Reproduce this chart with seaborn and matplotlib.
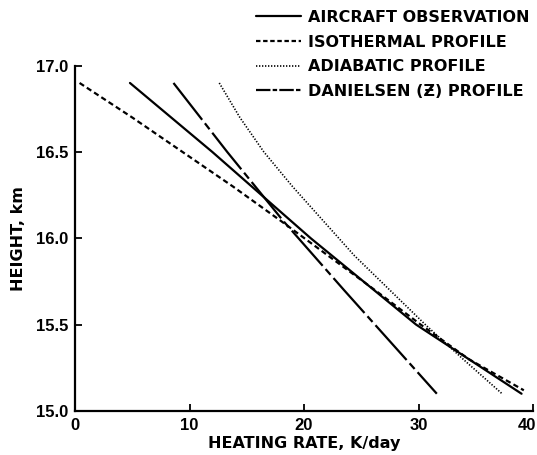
import numpy as np
import pandas as pd
import matplotlib
matplotlib.use("Agg")
import matplotlib.pyplot as plt
import matplotlib.transforms as mtransforms
import seaborn as sns

# ---- data ----
aircraft_height = [16.9, 16.5, 16.0, 15.5, 15.1]
aircraft_rate = [4.8, 12.0, 20.6, 29.8, 39.0]

isothermal_height = [16.9, 16.7, 16.5, 16.3, 16.1, 15.9, 15.7, 15.5, 15.3, 15.12]
isothermal_rate = [0.4, 5.0, 9.4, 13.8, 18.0, 22.1, 26.2, 30.2, 34.4, 39.2]

adiabatic_height = [16.9, 16.7, 16.5, 16.3, 16.1, 15.9, 15.7, 15.5, 15.3, 15.1]
adiabatic_rate = [12.6, 14.4, 16.5, 19.0, 21.7, 24.4, 27.5, 30.6, 33.9, 37.3]

danielsen_height = [16.9, 16.5, 16.1, 15.7, 15.3, 15.1]
danielsen_rate = [8.6, 13.3, 18.2, 23.5, 28.9, 31.6]

series_labels = ["AIRCRAFT OBSERVATION", "ISOTHERMAL PROFILE",
                 "ADIABATIC PROFILE", "DANIELSEN (Ƶ) PROFILE"]
x_ticks = [0, 10, 20, 30, 40]
y_ticks = [15.0, 15.5, 16.0, 16.5, 17.0]

frames = []
for lab, h, r in zip(series_labels,
                     [aircraft_height, isothermal_height, adiabatic_height, danielsen_height],
                     [aircraft_rate, isothermal_rate, adiabatic_rate, danielsen_rate]):
    frames.append(pd.DataFrame({"rate": r, "height": h, "profile": lab}))
df = pd.concat(frames, ignore_index=True)

sns.set_theme(style="ticks")
plt.rcParams["font.family"] = ["Liberation Sans", "DejaVu Sans"]
plt.rcParams["font.weight"] = "bold"
plt.rcParams["axes.labelweight"] = "bold"
for k in ["text.color", "axes.labelcolor", "xtick.color", "ytick.color", "axes.edgecolor"]:
    plt.rcParams[k] = "black"

label_font = {"family": ["DejaVu Sans"], "weight": "bold", "size": 11.5}

fig = plt.figure(figsize=(5.37, 4.55), dpi=100)
ax = fig.add_axes([75 / 537, 1 - 411 / 455, (533 - 75) / 537, (411 - 65.7) / 455])

dashes = {
    series_labels[0]: "",
    series_labels[1]: (2.4, 1.5),
    series_labels[2]: (0.8, 1.0),
    series_labels[3]: (21, 2, 3.4, 2),
}
sns.lineplot(data=df, x="rate", y="height", hue="profile", style="profile",
             palette=["black"] * 4, dashes=dashes, sort=False, estimator=None,
             ax=ax, legend=True)

widths = [1.6, 1.6, 1.2, 1.6]
for line, w in zip(ax.lines, widths):
    line.set_linewidth(w)

ax.set_xlim(0, 40)
ax.set_ylim(15.0, 17.0)
ax.set_xticks(x_ticks)
ax.set_yticks(y_ticks)
ax.set_yticklabels([f"{v:.1f}" for v in y_ticks])
ax.set_xticklabels([str(v) for v in x_ticks])
ax.tick_params(direction="in", length=5, width=1.3, labelsize=12, pad=5,
               colors="black")
# keep the last x tick label inside the canvas
last = ax.get_xticklabels()[-1]
last.set_transform(last.get_transform() +
                   mtransforms.ScaledTranslation(-6 / 100, 0, fig.dpi_scale_trans))
for s in ["top", "right"]:
    ax.spines[s].set_visible(False)
for s in ["left", "bottom"]:
    ax.spines[s].set_linewidth(1.6)
    ax.spines[s].set_color("black")
ax.set_xlabel("HEATING RATE, K/day", fontdict=label_font, labelpad=2)
ax.set_ylabel("HEIGHT, km", fontdict=label_font, labelpad=7)

handles, labels = ax.get_legend_handles_labels()
for hnd, w in zip(handles, widths):
    hnd.set_linewidth(w)
handles[1].set_dashes((2.0, 1.2))
handles[3].set_dashes((6.5, 1.0, 2.0, 1.0))
ax.legend(handles, labels, loc="upper left",
          bbox_to_anchor=(256 / 537, 1 - 10 / 455), bbox_transform=fig.transFigure,
          frameon=False, handlelength=2.8, handletextpad=0.45,
          labelspacing=0.6, borderpad=0, borderaxespad=0,
          prop={"family": ["DejaVu Sans"], "weight": "bold", "size": 11.5})

fig.savefig("out.png", dpi=100)
